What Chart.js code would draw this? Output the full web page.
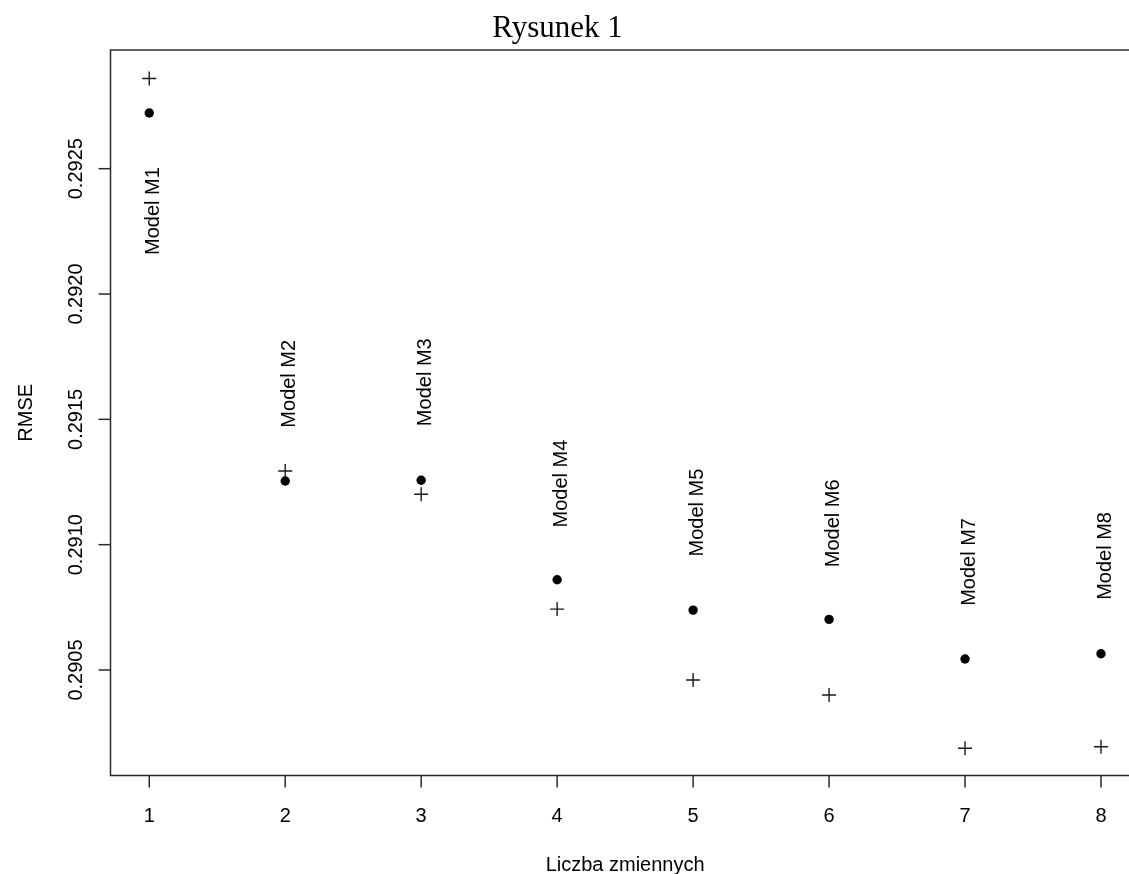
<!DOCTYPE html>
<html>
<head>
<meta charset="utf-8">
<title>Rysunek 1</title>
<script src="https://cdn.jsdelivr.net/npm/chart.js@4.4.1/dist/chart.umd.min.js"></script>
<style>
  html, body { margin: 0; padding: 0; background: #fff; overflow: hidden; }
  canvas { display: block; }
</style>
</head>
<body>
<canvas id="chart" width="1129" height="874"></canvas>
<script>
// number of variables in each model (x axis)
const nVars = [1, 2, 3, 4, 5, 6, 7, 8];
// RMSE drawn as filled dots
const rmseDot = [0.292722, 0.291254, 0.291257, 0.290860, 0.290739, 0.290702, 0.290544, 0.290565];
// RMSE drawn as plus signs
const rmsePlus = [0.292860, 0.291294, 0.291201, 0.290743, 0.290460, 0.290400, 0.290188, 0.290194];
// model labels and the RMSE level their centre sits at
const modelNames = ['Model M1', 'Model M2', 'Model M3', 'Model M4', 'Model M5', 'Model M6', 'Model M7', 'Model M8'];
const labelY = [0.292331, 0.291642, 0.291648, 0.291244, 0.291128, 0.291085, 0.290931, 0.290955];
// axis ticks
const xTicks = [1, 2, 3, 4, 5, 6, 7, 8];
const yTicks = [0.2905, 0.2910, 0.2915, 0.2920, 0.2925];

const SANS = "'Liberation Sans', Arial, sans-serif";
const SERIF = "'Liberation Serif', 'Times New Roman', serif";

// base-R look: box, outside ticks, rotated y labels, text labels
const rPlot = {
    id: 'rPlot',
    afterDraw(chart) {
        const { ctx, chartArea: a, scales: { x, y } } = chart;
        ctx.save();
        ctx.strokeStyle = '#2b2b2b';
        ctx.lineWidth = 1.5;
        ctx.beginPath();
        ctx.moveTo(a.right + 2, a.top);
        ctx.lineTo(a.left, a.top);
        ctx.lineTo(a.left, a.bottom);
        ctx.lineTo(a.right + 2, a.bottom);
        ctx.stroke();

        ctx.fillStyle = '#000';
        ctx.font = `20px ${SANS}`;

        // x ticks
        ctx.textAlign = 'center';
        ctx.textBaseline = 'alphabetic';
        xTicks.forEach(v => {
            const px = x.getPixelForValue(v);
            ctx.beginPath();
            ctx.moveTo(px, a.bottom);
            ctx.lineTo(px, a.bottom + 12);
            ctx.stroke();
            ctx.fillText(String(v), px, a.bottom + 46);
        });

        // y ticks, labels rotated like las=0
        yTicks.forEach(v => {
            const py = y.getPixelForValue(v);
            ctx.beginPath();
            ctx.moveTo(a.left, py);
            ctx.lineTo(a.left - 12, py);
            ctx.stroke();
            ctx.save();
            ctx.translate(a.left - 29, py);
            ctx.rotate(-Math.PI / 2);
            ctx.fillText(v.toFixed(4), 0, 0);
            ctx.restore();
        });

        // axis titles
        ctx.fillText('Liczba zmiennych', x.getPixelForValue(4.5), 871);
        ctx.save();
        ctx.translate(31.5, (a.top + a.bottom) / 2);
        ctx.rotate(-Math.PI / 2);
        ctx.fillText('RMSE', 0, 0);
        ctx.restore();

        // model labels
        modelNames.forEach((name, i) => {
            ctx.save();
            ctx.translate(x.getPixelForValue(nVars[i]), y.getPixelForValue(labelY[i]));
            ctx.rotate(-Math.PI / 2);
            ctx.fillText(name, 0, 10);
            ctx.restore();
        });

        // main title
        ctx.font = `31px ${SERIF}`;
        ctx.fillText('Rysunek 1', 557.5, 36.5);
        ctx.restore();
    }
};

new Chart(document.getElementById('chart'), {
    type: 'scatter',
    data: {
        datasets: [
            {
                label: 'RMSE (kropki)',
                data: nVars.map((v, i) => ({ x: v, y: rmseDot[i] })),
                pointStyle: 'circle',
                pointRadius: 4.7,
                backgroundColor: '#000',
                borderColor: '#000',
                borderWidth: 0
            },
            {
                label: 'RMSE (plusy)',
                data: nVars.map((v, i) => ({ x: v, y: rmsePlus[i] })),
                pointStyle: 'cross',
                pointRadius: 7,
                borderColor: '#1a1a1a',
                borderWidth: 1.4
            }
        ]
    },
    options: {
        responsive: false,
        animation: false,
        layout: { autoPadding: false, padding: { left: 110.5, top: 50, right: 0, bottom: 98.5 } },
        scales: {
            x: { type: 'linear', min: 0.715, max: 8.206, display: false },
            y: { type: 'linear', min: 0.2900791, max: 0.2929735, display: false }
        },
        plugins: { legend: { display: false }, tooltip: { enabled: false } }
    },
    plugins: [rPlot]
});
</script>
</body>
</html>
